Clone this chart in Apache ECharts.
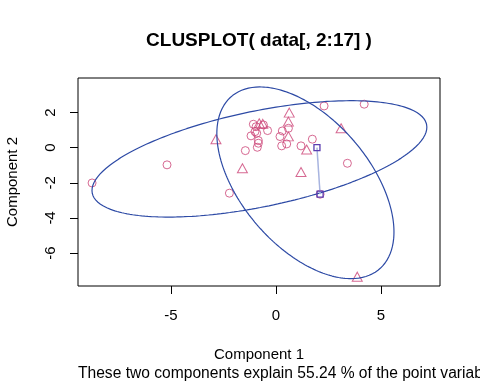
<!DOCTYPE html>
<html>
<head>
<meta charset="utf-8">
<script src="https://cdn.jsdelivr.net/npm/echarts@6/dist/echarts.min.js"></script>
<style>html,body{margin:0;padding:0;background:#fff}#c{width:480px;height:384px}</style>
</head>
<body>
<div id="c"></div>
<script>
// Cluster 1 points (circles)
const circleX = [-8.76, -5.19, -2.22, -1.46, -1.08, -0.95, -1.00, -0.92, -0.40, -1.19, -0.84, -0.84, -0.89, -0.60, 0.30, 0.59, 0.19, 0.27, 0.51, 1.19, 1.73, 2.29, 4.20, 3.40, 2.10];
const circleY = [-2.01, -0.98, -2.59, -0.17, 1.33, 1.19, 0.91, 0.82, 0.97, 0.67, 0.40, 0.25, 0.02, 1.29, 0.95, 1.10, 0.63, 0.10, 0.21, 0.10, 0.48, 2.37, 2.47, -0.89, -2.65];
// Cluster 2 points (triangles)
const triangleX = [-2.86, -1.60, -0.80, -0.63, 0.63, 0.59, 0.59, 1.46, 1.19, 3.10, 3.87];
const triangleY = [0.48, -1.17, 1.39, 1.35, 1.99, 1.48, 0.64, -0.11, -1.39, 1.10, -7.34];
// Cluster ellipses (center, semi-axes, rotation in degrees)
const ellipseCX = [-0.79, 1.40];
const ellipseCY = [-0.64, -2.00];
const ellipseA = [8.2, 6.08];
const ellipseB = [2.7, 3.245];
const ellipseDeg = [14.3, -58.4];
// Segment between clusters
const segX = [1.95, 2.10];
const segY = [0.00, -2.65];
// Tick labels
const xTicks = [-5, 0, 5];
const yTicks = [-6, -4, -2, 0, 2];

const FONT = 'Liberation Sans, Arial, sans-serif';
const PINK = '#cc4477';
const BLUE = '#2d4aa5';

function ellipsePts(i) {
  const pts = [];
  const th = ellipseDeg[i] * Math.PI / 180;
  const c = Math.cos(th), s = Math.sin(th);
  for (let k = 0; k <= 240; k++) {
    const t = 2 * Math.PI * k / 240;
    const u = ellipseA[i] * Math.cos(t), v = ellipseB[i] * Math.sin(t);
    pts.push([ellipseCX[i] + u * c - v * s, ellipseCY[i] + u * s + v * c]);
  }
  return pts;
}

const chart = echarts.init(document.getElementById('c'), null, {renderer: 'canvas'});
const option = {
  animation: false,
  backgroundColor: '#fff',
  grid: {left: 78, top: 78, width: 362, height: 208, show: true, borderColor: '#000', borderWidth: 1, backgroundColor: 'transparent'},
  xAxis: {
    type: 'value', min: -9.43, max: 7.81,
    splitLine: {show: false},
    axisLine: {show: false, onZero: false},
    axisTick: {show: true, length: 8, lineStyle: {color: '#000'}, customValues: xTicks},
    axisLabel: {customValues: xTicks, color: '#000', fontSize: 15, fontFamily: FONT, margin: 22}
  },
  yAxis: {
    type: 'value', min: -7.87, max: 3.96,
    splitLine: {show: false},
    axisLine: {show: false, onZero: false},
    axisTick: {show: true, length: 8, lineStyle: {color: '#000'}, customValues: yTicks},
    axisLabel: {customValues: yTicks, color: '#000', fontSize: 15, fontFamily: FONT, margin: 20, rotate: 90}
  },
  series: [
    {type: 'line', data: ellipsePts(0), showSymbol: false, lineStyle: {color: BLUE, width: 1.2}, silent: true},
    {type: 'line', data: ellipsePts(1), showSymbol: false, lineStyle: {color: BLUE, width: 1.2}, silent: true},
    {type: 'line', data: segX.map((x, i) => [x, segY[i]]), symbol: 'rect', symbolSize: 6, showSymbol: true,
     lineStyle: {color: '#a8b4e0', width: 1.5}, itemStyle: {color: 'rgba(0,0,0,0)', borderColor: '#5a3cb0', borderWidth: 1.3}},
    {type: 'scatter', data: circleX.map((x, i) => [x, circleY[i]]), symbol: 'circle', symbolSize: 8,
     itemStyle: {color: 'rgba(0,0,0,0)', borderColor: PINK, borderWidth: 1}},
    {type: 'scatter', data: triangleX.map((x, i) => [x, triangleY[i]]), symbol: 'triangle', symbolSize: [10, 9],
     itemStyle: {color: 'rgba(0,0,0,0)', borderColor: PINK, borderWidth: 1}}
  ],
  graphic: [
    {type: 'text', style: {text: 'CLUSPLOT( data[, 2:17] )', x: 259, y: 41, align: 'center', verticalAlign: 'middle', font: 'bold 19px ' + FONT, fill: '#000'}},
    {type: 'text', style: {text: 'Component 1', x: 259, y: 355, align: 'center', verticalAlign: 'middle', font: '15px ' + FONT, fill: '#000'}},
    {type: 'text', style: {text: 'These two components explain 55.24 % of the point variability.', x: 78, y: 374, align: 'left', verticalAlign: 'middle', font: '15.6px ' + FONT, fill: '#000'}},
    {type: 'text', x: 13, y: 182, rotation: Math.PI / 2, style: {text: 'Component 2', x: 0, y: 0, align: 'center', verticalAlign: 'middle', font: '15px ' + FONT, fill: '#000'}}
  ]
};
chart.setOption(option);
</script>
</body>
</html>
